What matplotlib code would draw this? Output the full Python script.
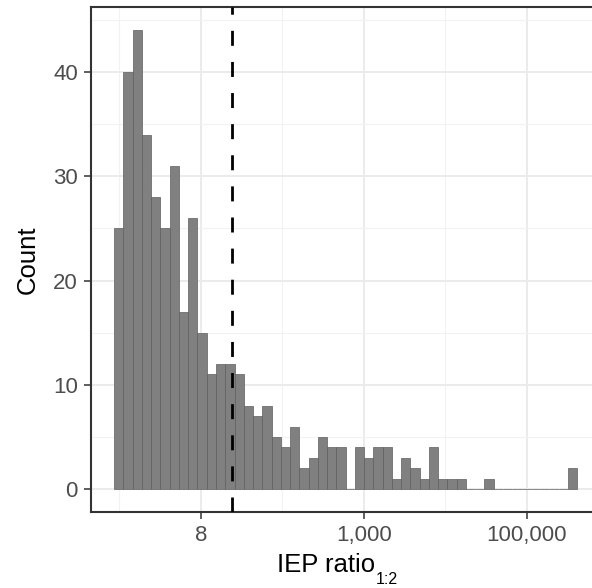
import matplotlib
matplotlib.use('Agg')
import matplotlib.pyplot as plt
from matplotlib.ticker import NullFormatter
import numpy as np

# histogram counts, 50 bins on log10 scale
counts = [25, 40, 44, 34, 28, 25, 31, 17, 26, 15,
          11, 12, 12, 11, 8, 7, 8, 5, 4, 6,
          2, 3, 5, 4, 4, 0, 4, 3, 4, 4,
          1, 3, 2, 1, 4, 1, 1, 1, 0, 0,
          1, 0, 0, 0, 0, 0, 0, 0, 0, 2]
log_start = -0.064   # log10 of first bin edge
log_binwidth = 0.1136
cutoff = 24.0        # dashed line
xtick_vals = [10, 1000, 100000]
xtick_labels = ['8', '1,000', '100,000']
ytick_vals = [0, 10, 20, 30, 40]

plt.rcParams['font.family'] = ['Liberation Sans', 'DejaVu Sans']

edges = 10 ** (log_start + log_binwidth * np.arange(len(counts) + 1))
lefts = edges[:-1]
widths = np.diff(edges)

W, H = 592, 588
fig = plt.figure(figsize=(W/100, H/100), dpi=100)
ax = fig.add_axes([91/W, 76/H, 509.3/W, 504.6/H])

ax.bar(lefts, counts, width=widths, align='edge', color='#808080',
       edgecolor='#5e5e5e', linewidth=0.5, zorder=2)
ax.axvline(cutoff, color='black', linewidth=2.0, dashes=(5.4, 5.8), zorder=3)

ax.set_xscale('log')
ax.set_xticks(xtick_vals)
ax.set_xticklabels(xtick_labels)
ax.set_xticks([1, 100, 10000], minor=True)
ax.xaxis.set_minor_formatter(NullFormatter())
ax.set_yticks(ytick_vals)
ax.set_yticks([5, 15, 25, 35, 45], minor=True)
# limits after the ticks, so set_xticks can't widen them
ax.set_xlim(10 ** -0.348, 10 ** 5.901)
ax.set_ylim(-2.2, 46.2)

ax.grid(True, which='major', color='#ebebeb', linewidth=1.4, zorder=0)
ax.grid(True, which='minor', color='#f2f2f2', linewidth=0.8, zorder=0)
ax.set_axisbelow(True)

for s in ax.spines.values():
    s.set_color('#333333')
    s.set_linewidth(1.5)

ax.tick_params(which='major', length=5, width=1.1, color='#333333',
               labelsize=16, labelcolor='#4d4d4d', pad=4.5)
ax.tick_params(which='minor', length=0)

# axis titles (subscript drawn as its own text so the colon stays tight)
xl = fig.text(277/W, 1 - 572/H, 'IEP ratio', fontsize=18.5,
              ha='left', va='baseline')
ax.annotate('1:2', xy=(1, 4), xycoords=(xl, 'figure pixels'),
            xytext=(0.5, 0), textcoords='offset points',
            fontsize=11.5, ha='left', va='baseline')
fig.text(27.3/W, 1 - 260/H, 'Count', fontsize=18.5, rotation=90,
         ha='center', va='center')

fig.savefig('out.png', dpi=100)
